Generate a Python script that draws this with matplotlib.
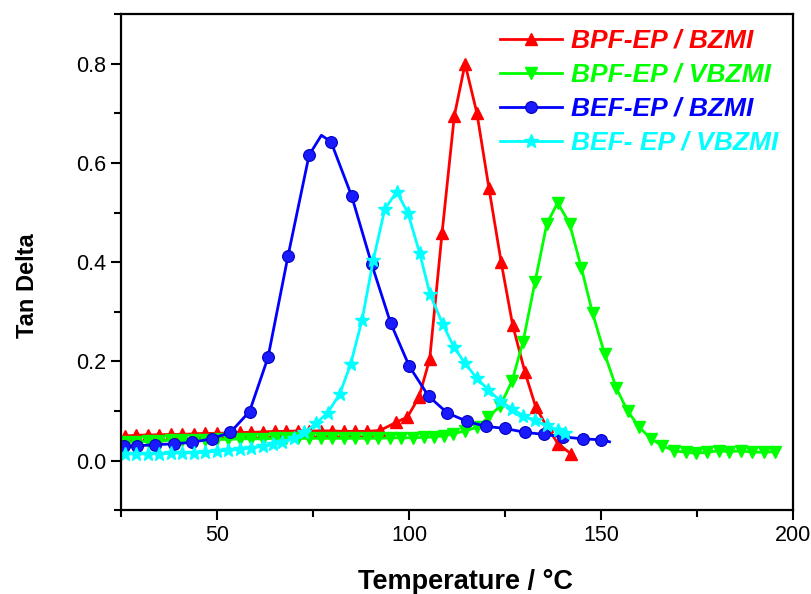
import matplotlib.pyplot as plt
from matplotlib.ticker import MultipleLocator

# BPF-EP / BZMI
t_red = [26, 29, 32, 35, 38, 41, 44, 47, 50, 53, 56, 59, 62, 65, 68, 71, 74, 77,
         80, 83, 86, 89, 92.5, 96.6, 99.6, 102.6, 105.4, 108.6, 111.8, 114.6,
         117.7, 120.8, 124, 127, 130.2, 133, 135.8, 138.8, 142.3]
y_red = [0.050, 0.051, 0.052, 0.052, 0.053, 0.053, 0.054, 0.055, 0.055, 0.056,
         0.057, 0.057, 0.058, 0.059, 0.059, 0.060, 0.060, 0.060, 0.060, 0.059,
         0.059, 0.059, 0.061, 0.077, 0.088, 0.128, 0.205, 0.458, 0.695, 0.800,
         0.700, 0.550, 0.400, 0.273, 0.178, 0.108, 0.070, 0.034, 0.013]

# BPF-EP / VBZMI
t_green = [26, 29, 32, 35, 38, 41, 44, 47, 50, 53, 56, 59, 62, 65, 68, 71, 74,
           77, 80, 83, 86, 89, 92, 95, 98, 101, 104, 106.5, 109, 111.5, 114.6,
           117.7, 120.6, 123.7, 126.8, 129.7, 132.8, 135.9, 138.7, 141.8, 144.9,
           147.8, 150.9, 154, 156.9, 160, 163, 165.9, 169, 172, 174.6, 177.7,
           180.7, 183.3, 186.3, 189.3, 192.3, 195.3]
y_green = [0.037, 0.038, 0.039, 0.040, 0.041, 0.041, 0.042, 0.042, 0.043, 0.043,
           0.044, 0.044, 0.044, 0.045, 0.045, 0.045, 0.045, 0.045, 0.045, 0.045,
           0.045, 0.045, 0.045, 0.046, 0.046, 0.046, 0.047, 0.048, 0.050, 0.054,
           0.060, 0.067, 0.087, 0.110, 0.160, 0.240, 0.360, 0.478, 0.520, 0.478,
           0.388, 0.297, 0.216, 0.146, 0.100, 0.067, 0.044, 0.030, 0.020, 0.017,
           0.015, 0.017, 0.020, 0.018, 0.020, 0.017, 0.017, 0.018]

# BEF-EP / BZMI
t_blue = [25.7, 29.3, 33.9, 38.8, 43.6, 48.6, 53.5, 58.5, 63.3, 68.5, 74.0,
          77.2, 79.7, 85.1, 90.3, 95.2, 100.1, 105.1, 110, 115.2, 120, 125,
          130.2, 135.1, 140, 145.2, 150.1, 152.2]
y_blue = [0.030, 0.030, 0.032, 0.034, 0.037, 0.044, 0.057, 0.099, 0.208, 0.412,
          0.616, 0.656, 0.643, 0.533, 0.396, 0.278, 0.190, 0.130, 0.096, 0.079,
          0.069, 0.065, 0.057, 0.053, 0.048, 0.044, 0.042, 0.038]
# the peak top and the line end carry no marker in the original
blue_marked = [i for i in range(len(t_blue)) if t_blue[i] not in (77.2, 152.2)]

# BEF- EP / VBZMI
t_cyan = [26, 29, 32, 35, 38, 41, 44, 47, 50, 53, 56, 59, 62, 64.5, 67, 70,
          72.8, 75.8, 78.9, 82, 84.8, 87.8, 90.7, 93.7, 96.8, 99.7, 102.8,
          105.5, 108.8, 111.7, 114.6, 117.7, 120.6, 123.7, 126.7, 129.7, 132.8,
          135.8, 138.7, 140.5]
y_cyan = [0.014, 0.013, 0.014, 0.014, 0.015, 0.016, 0.016, 0.017, 0.019, 0.021,
          0.023, 0.026, 0.029, 0.033, 0.038, 0.046, 0.057, 0.075, 0.097, 0.135,
          0.194, 0.284, 0.404, 0.507, 0.542, 0.500, 0.418, 0.335, 0.275, 0.229,
          0.196, 0.166, 0.143, 0.121, 0.105, 0.091, 0.081, 0.071, 0.062, 0.055]

labels = ['BPF-EP / BZMI', 'BPF-EP / VBZMI', 'BEF-EP / BZMI', 'BEF- EP / VBZMI']
colors = ['#ff0000', '#00ff00', '#0000ff', '#00ffff']

plt.rcParams['font.family'] = ['Liberation Sans', 'DejaVu Sans']

fig = plt.figure(figsize=(8.11, 5.94), dpi=100)
ax = fig.add_axes([0.149, 0.141, 0.829, 0.835])

ax.plot(t_red, y_red, color=colors[0], lw=2, marker='^', ms=8.5, label=labels[0])
ax.plot(t_green, y_green, color=colors[1], lw=2, marker='v', ms=8.5,
        label=labels[1])
ax.plot(t_blue, y_blue, color=colors[2], lw=2, marker='o', ms=8.5,
        mfc='#1a1aff', mec='#0000c0', mew=0.8, markevery=blue_marked,
        label=labels[2])
ax.plot(t_cyan, y_cyan, color=colors[3], lw=2, marker='*', ms=10,
        label=labels[3])

ax.set_xlim(25, 200)
ax.set_ylim(-0.1, 0.9)
ax.xaxis.set_major_locator(MultipleLocator(50))
ax.xaxis.set_minor_locator(MultipleLocator(25))
ax.yaxis.set_major_locator(MultipleLocator(0.2))
ax.yaxis.set_minor_locator(MultipleLocator(0.1))
ax.yaxis.set_major_formatter(lambda v, p: f'{v:.1f}')

for s in ax.spines.values():
    s.set_linewidth(1.6)
ax.tick_params(which='both', direction='out', width=1.5, labelsize=15.5,
               top=False, right=False)
ax.tick_params(which='major', length=7)
ax.tick_params(which='minor', length=5)

ax.set_xlabel('Temperature / °C', fontsize=19.5, fontweight='bold')
ax.set_ylabel('Tan Delta', fontsize=17, fontweight='bold')
ax.xaxis.set_label_coords(0.512, -0.119)
ax.yaxis.set_label_coords(-0.121, 0.452)

leg = ax.legend(loc='upper right', frameon=False, handlelength=2.35,
                handletextpad=0.35, labelspacing=0.38, borderaxespad=0.15,
                bbox_to_anchor=(1.0, 1.0),
                prop={'size': 19, 'weight': 'bold', 'style': 'italic'})
for txt, c in zip(leg.get_texts(), colors):
    txt.set_color(c)

fig.savefig('out.png', dpi=100)
